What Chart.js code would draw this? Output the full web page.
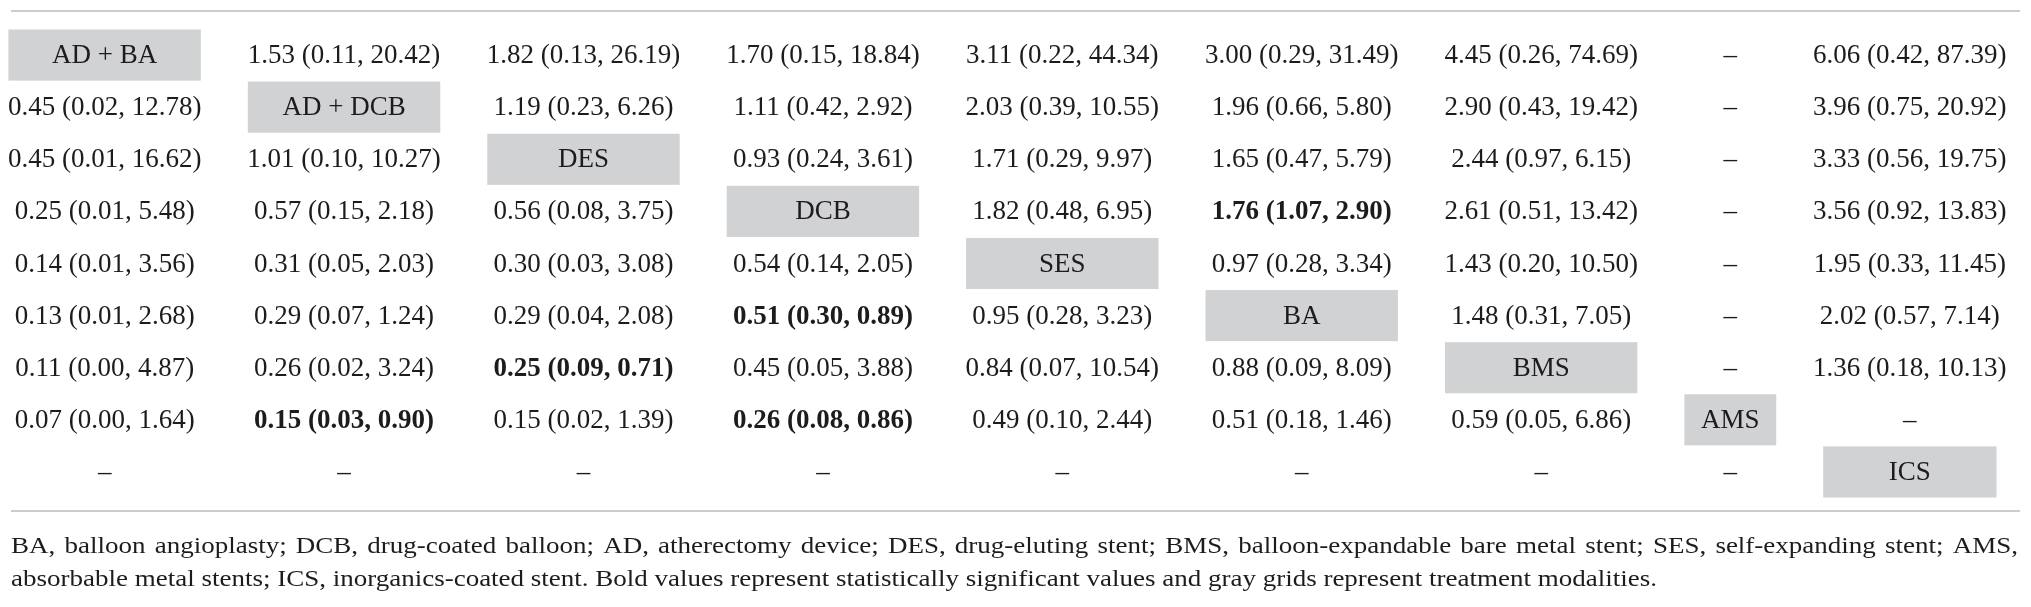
<!DOCTYPE html>
<html>
<head>
<meta charset="utf-8">
<script src="https://cdn.jsdelivr.net/npm/chart.js@4.4.1/dist/chart.umd.min.js"></script>
<style>
  html, body { margin: 0; padding: 0; background: #fff; }
  #wrap { width: 2031px; height: 607px; position: relative; }
</style>
</head>
<body>
<div id="wrap"><canvas id="leagueTable"></canvas></div>
<script>
// treatments on the diagonal, top-left to bottom-right
const treatments = ['AD + BA', 'AD + DCB', 'DES', 'DCB', 'SES', 'BA', 'BMS', 'AMS', 'ICS'];

// odds ratios, null = not estimable (shown as a dash), diagonal = treatment name
const pointEst = [
    [null, 1.53, 1.82, 1.70, 3.11, 3.00, 4.45, null, 6.06],
    [0.45, null, 1.19, 1.11, 2.03, 1.96, 2.90, null, 3.96],
    [0.45, 1.01, null, 0.93, 1.71, 1.65, 2.44, null, 3.33],
    [0.25, 0.57, 0.56, null, 1.82, 1.76, 2.61, null, 3.56],
    [0.14, 0.31, 0.30, 0.54, null, 0.97, 1.43, null, 1.95],
    [0.13, 0.29, 0.29, 0.51, 0.95, null, 1.48, null, 2.02],
    [0.11, 0.26, 0.25, 0.45, 0.84, 0.88, null, null, 1.36],
    [0.07, 0.15, 0.15, 0.26, 0.49, 0.51, 0.59, null, null],
    [null, null, null, null, null, null, null, null, null]
];
const ciLow = [
    [null, 0.11, 0.13, 0.15, 0.22, 0.29, 0.26, null, 0.42],
    [0.02, null, 0.23, 0.42, 0.39, 0.66, 0.43, null, 0.75],
    [0.01, 0.10, null, 0.24, 0.29, 0.47, 0.97, null, 0.56],
    [0.01, 0.15, 0.08, null, 0.48, 1.07, 0.51, null, 0.92],
    [0.01, 0.05, 0.03, 0.14, null, 0.28, 0.20, null, 0.33],
    [0.01, 0.07, 0.04, 0.30, 0.28, null, 0.31, null, 0.57],
    [0.00, 0.02, 0.09, 0.05, 0.07, 0.09, null, null, 0.18],
    [0.00, 0.03, 0.02, 0.08, 0.10, 0.18, 0.05, null, null],
    [null, null, null, null, null, null, null, null, null]
];
const ciHigh = [
    [null, 20.42, 26.19, 18.84, 44.34, 31.49, 74.69, null, 87.39],
    [12.78, null, 6.26, 2.92, 10.55, 5.80, 19.42, null, 20.92],
    [16.62, 10.27, null, 3.61, 9.97, 5.79, 6.15, null, 19.75],
    [5.48, 2.18, 3.75, null, 6.95, 2.90, 13.42, null, 13.83],
    [3.56, 2.03, 3.08, 2.05, null, 3.34, 10.50, null, 11.45],
    [2.68, 1.24, 2.08, 0.89, 3.23, null, 7.05, null, 7.14],
    [4.87, 3.24, 0.71, 3.88, 10.54, 8.09, null, null, 10.13],
    [1.64, 0.90, 1.39, 0.86, 2.44, 1.46, 6.86, null, null],
    [null, null, null, null, null, null, null, null, null]
];

const footnote = [
    'BA, balloon angioplasty; DCB, drug-coated balloon; AD, atherectomy device; DES, drug-eluting stent; BMS, balloon-expandable bare metal stent; SES, self-expanding stent; AMS,',
    'absorbable metal stents; ICS, inorganics-coated stent. Bold values represent statistically significant values and gray grids represent treatment modalities.'
];

// relative column widths (the AMS and ICS columns are narrower)
const colWidths = [1, 1, 1, 1, 1, 1, 1, 0.58, 0.92];
const colStart = [];
colWidths.reduce((acc, w, i) => { colStart[i] = acc; return acc + w; }, 0);
const colTotal = colWidths.reduce((a, b) => a + b, 0);

const TEXT = '#1e1b1c';
const BOX = '#d1d2d4';
const RULE = '#cccccc';
const FONT = '"Liberation Serif", "Times New Roman", serif';

const diagCells = [];
const otherCells = [];
for (let r = 0; r < treatments.length; r++) {
    for (let c = 0; c < treatments.length; c++) {
        const cell = { x: colStart[c] + colWidths[c] / 2, y: r + 0.5, col: c };
        if (r === c) {
            cell.label = treatments[r];
            diagCells.push(cell);
        } else if (pointEst[r][c] === null) {
            cell.label = '\u2013';
            otherCells.push(cell);
        } else {
            const lo = ciLow[r][c], hi = ciHigh[r][c];
            cell.label = pointEst[r][c].toFixed(2) + ' (' + lo.toFixed(2) + ', ' + hi.toFixed(2) + ')';
            cell.bold = hi < 1 || lo > 1;
            otherCells.push(cell);
        }
    }
}

function cellText(ctx, str, cx, cy, font) {
    ctx.save();
    ctx.font = font;
    ctx.fillStyle = TEXT;
    ctx.textAlign = 'center';
    ctx.textBaseline = 'middle';
    ctx.fillText(str, cx, cy);
    ctx.restore();
}

const leagueTablePlugin = {
    id: 'leagueTable',
    beforeDatasetsDraw(chart) {
        const { ctx, chartArea, scales: { x, y } } = chart;
        const inset = 23.5;
        ctx.save();
        ctx.fillStyle = BOX;
        diagCells.forEach((cell, i) => {
            const left = x.getPixelForValue(colStart[cell.col]) + inset;
            const right = x.getPixelForValue(colStart[cell.col] + colWidths[cell.col]) - inset;
            const top = y.getPixelForValue(i) + 0.5;
            const bottom = y.getPixelForValue(i + 1) - 0.5;
            ctx.fillRect(left, top, right - left, bottom - top);
        });
        // top and bottom rules
        ctx.fillStyle = RULE;
        ctx.fillRect(chartArea.left + 11, chartArea.top - 19, chartArea.right - chartArea.left - 11, 2);
        ctx.fillRect(chartArea.left + 11, chartArea.bottom + 12, chartArea.right - chartArea.left - 11, 2);
        ctx.restore();
    },
    afterDatasetsDraw(chart) {
        const { ctx, chartArea } = chart;
        [0, 1].forEach(di => {
            const meta = chart.getDatasetMeta(di);
            const data = chart.data.datasets[di].data;
            meta.data.forEach((pt, j) => {
                const cell = data[j];
                const font = (cell.bold ? 'bold ' : '') + '27px ' + FONT;
                cellText(ctx, cell.label, pt.x, pt.y + 1, font);
            });
        });

        // footnote, first line justified to the table width
        ctx.save();
        ctx.font = '24px ' + FONT;
        ctx.fillStyle = TEXT;
        ctx.textBaseline = 'alphabetic';
        ctx.textAlign = 'left';
        const left = chartArea.left + 11;
        const sx = 1646 / ctx.measureText(footnote[1]).width;
        const fullWidth = chartArea.right - 2 - left;
        const words = footnote[0].split(' ');
        const wordsWidth = words.reduce((s, w) => s + ctx.measureText(w).width * sx, 0);
        const gap = (fullWidth - wordsWidth) / (words.length - 1);
        let cx = left;
        const base1 = chartArea.bottom + 55;
        words.forEach(w => {
            ctx.save();
            ctx.translate(cx, base1);
            ctx.scale(sx, 1);
            ctx.fillText(w, 0, 0);
            ctx.restore();
            cx += ctx.measureText(w).width * sx + gap;
        });
        ctx.translate(left, chartArea.bottom + 88);
        ctx.scale(sx, 1);
        ctx.fillText(footnote[1], 0, 0);
        ctx.restore();
    }
};

new Chart(document.getElementById('leagueTable').getContext('2d'), {
    type: 'scatter',
    data: {
        datasets: [
            { label: 'Treatments', data: diagCells, pointRadius: 0, pointHoverRadius: 0 },
            { label: 'Comparisons', data: otherCells, pointRadius: 0, pointHoverRadius: 0 }
        ]
    },
    options: {
        responsive: true,
        maintainAspectRatio: false,
        animation: false,
        devicePixelRatio: 1,
        layout: { padding: { top: 29, bottom: 109, left: 0, right: 11 } },
        scales: {
            x: { type: 'linear', display: false, min: 0.063, max: colTotal },
            y: { type: 'linear', display: false, min: 0, max: treatments.length, reverse: true }
        },
        plugins: {
            legend: { display: false },
            tooltip: { enabled: false }
        },
        events: []
    },
    plugins: [leagueTablePlugin]
});
</script>
</body>
</html>
